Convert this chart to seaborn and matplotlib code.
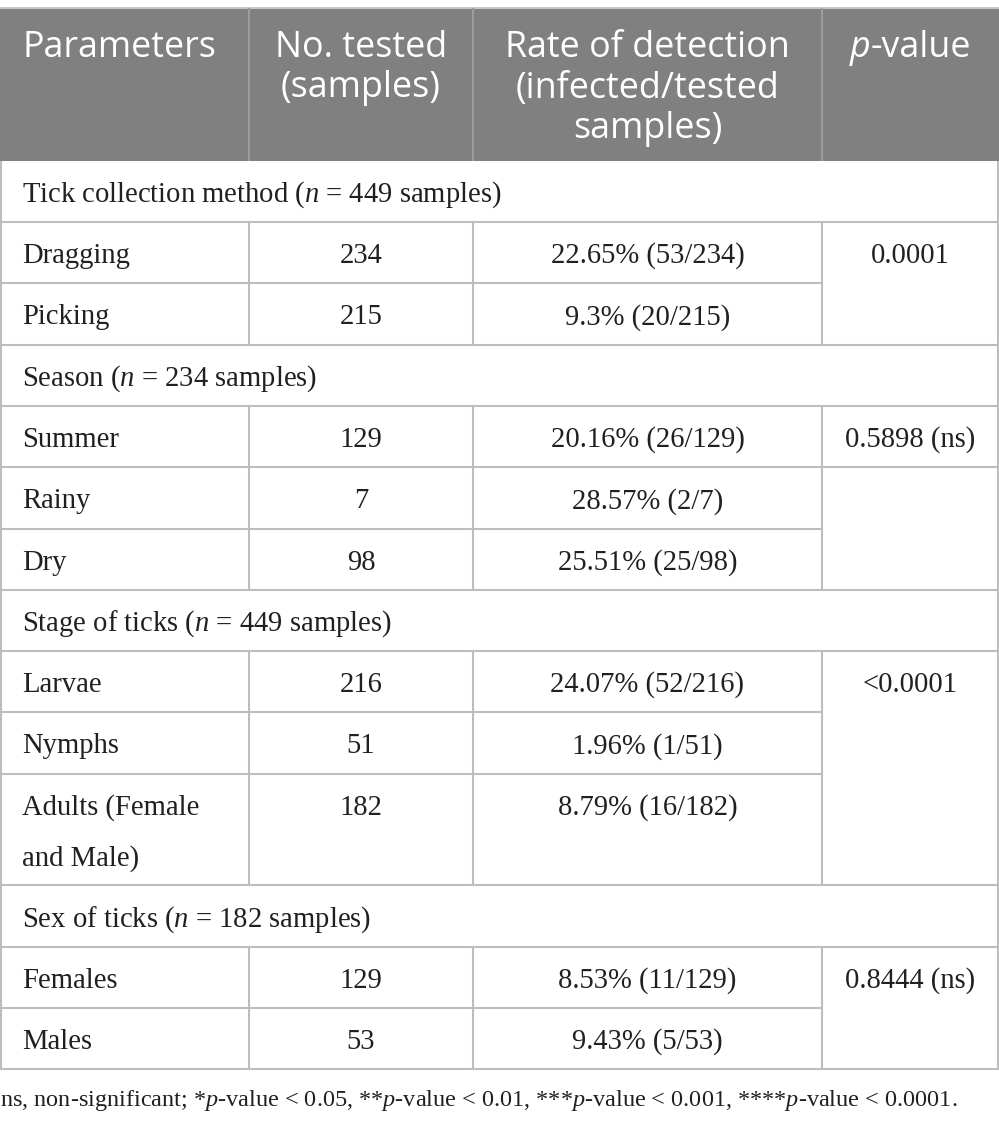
import numpy as np
import pandas as pd
import matplotlib
matplotlib.use("Agg")
import matplotlib.pyplot as plt
import seaborn as sns

# Datos de la tabla
group_names = ["Tick collection method", "Season", "Stage of ticks", "Sex of ticks"]
group_n = [449, 234, 449, 182]
group_sizes = [2, 3, 3, 2]
params = ["Dragging", "Picking", "Summer", "Rainy", "Dry", "Larvae", "Nymphs",
          "Adults (Female\nand Male)", "Females", "Males"]
n_tested = [234, 215, 129, 7, 98, 216, 51, 182, 129, 53]
rates = ["22.65% (53/234)", "9.3% (20/215)", "20.16% (26/129)", "28.57% (2/7)",
         "25.51% (25/98)", "24.07% (52/216)", "1.96% (1/51)", "8.79% (16/182)",
         "8.53% (11/129)", "9.43% (5/53)"]
p_values = ["0.0001", "0.5898 (ns)", "", "<0.0001", "0.8444 (ns)"]
p_spans = [2, 1, 2, 3, 2]
headers = ["Parameters", "No. tested\n(samples)", "Rate of detection\n(infected/tested\nsamples)", "-value"]
footnote = ("ns, non-significant; *$p$-value < 0.05, **$p$-value < 0.01, "
            "***$p$-value < 0.001, ****$p$-value < 0.0001.")

sns.set_theme(style="white")
plt.rcParams['font.family'] = ['Liberation Serif', 'DejaVu Serif']
plt.rcParams['mathtext.fontset'] = 'custom'
plt.rcParams['mathtext.rm'] = 'Liberation Serif'
plt.rcParams['mathtext.it'] = 'Liberation Serif:italic'

W, H = 999, 1128
fig = plt.figure(figsize=(W / 100, H / 100), dpi=100)
ax = fig.add_axes([0, 0, 1, 1])
ax.set_xlim(0, W)
ax.set_ylim(H, 0)
ax.axis("off")

col_x = [0.5, 249, 473, 822, 998]
centers = [(col_x[i] + col_x[i + 1]) / 2 for i in range(4)]
grid_col = "#bdbdbd"
lw = 1.5
body_fs = 20.6
head_fs = 25.8
txt_col = "#231f20"

# Encabezado
head_top, head_bot = 8, 160.7
ax.fill_between([0, W], head_top, head_bot, color="#808080", lw=0)
ax.hlines(head_top, 0, W, color="#c8c8c8", lw=lw)
for x in col_x[1:4]:
    ax.vlines(x, head_top, head_bot, color="#9c9c9c", lw=lw)
base0, lstep = 57, 40.5
for i, h in enumerate(headers[:3]):
    for j, line in enumerate(h.split("\n")):
        if i == 0:
            ax.text(22, base0 + j * lstep, line, ha="left", va="baseline",
                    color="white", fontsize=head_fs, family="Open Sans")
        else:
            ax.text(centers[i], base0 + j * lstep, line, ha="center", va="baseline",
                    color="white", fontsize=head_fs, family="Open Sans")
# p-value con p en cursiva
r = fig.canvas.get_renderer()
tp = ax.text(0, base0, "p", ha="left", va="baseline", color="white",
             fontsize=head_fs, family="Open Sans", style="italic")
tv = ax.text(0, base0, headers[3], ha="left", va="baseline", color="white",
             fontsize=head_fs, family="Open Sans")
wp = tp.get_window_extent(r).width
wv = tv.get_window_extent(r).width
x0 = centers[3] - (wp + wv) / 2
tp.set_x(x0)
tv.set_x(x0 + wp + 1)

# Filas
row_h = 61.3
extra = 50.5
y = head_bot
k = 0
p_k = 0
for g, name in enumerate(group_names):
    # fila de grupo
    ax.text(22, y + 41, f"{name} ($n$ = {group_n[g]} samples)", ha="left",
            va="baseline", color=txt_col, fontsize=body_fs)
    y += row_h
    ax.hlines(y, 0, W, color=grid_col, lw=lw)
    # celdas de p-valor del grupo
    ends = []
    starts = {}
    acc = 0
    while acc < group_sizes[g]:
        starts[acc] = p_values[p_k]
        acc += p_spans[p_k]
        ends.append(acc)
        p_k += 1
    for i in range(group_sizes[g]):
        nl = params[k].count("\n") + 1
        rh = row_h + extra * (nl - 1)
        for j, line in enumerate(params[k].split("\n")):
            ax.text(22, y + 41 + j * extra, line, ha="left", va="baseline",
                    color=txt_col, fontsize=body_fs)
        ax.text(centers[1], y + 41, str(n_tested[k]), ha="center", va="baseline",
                color=txt_col, fontsize=body_fs)
        ax.text(centers[2], y + 41, rates[k], ha="center", va="baseline",
                color=txt_col, fontsize=body_fs)
        if i in starts and starts[i]:
            ax.text(centers[3], y + 41, starts[i], ha="center", va="baseline",
                    color=txt_col, fontsize=body_fs)
        for x in col_x[1:4]:
            ax.vlines(x, y, y + rh, color=grid_col, lw=lw)
        y += rh
        if (i + 1) in ends:
            ax.hlines(y, 0, W, color=grid_col, lw=lw)
        else:
            ax.hlines(y, 0, col_x[3], color=grid_col, lw=lw)
        k += 1

# bordes exteriores
ax.vlines(col_x[0], head_bot, y, color=grid_col, lw=lw)
ax.vlines(col_x[4], head_bot, y, color=grid_col, lw=lw)

ax.text(0, 1106, footnote, ha="left", va="baseline", color=txt_col, fontsize=17.5)

fig.savefig("out.png", dpi=100)
